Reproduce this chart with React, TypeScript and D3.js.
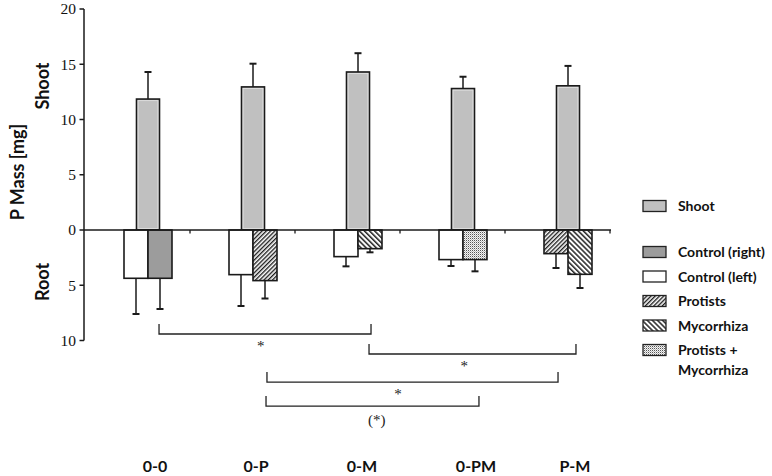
import * as d3 from "d3";
import React from "react";

// group labels along the bottom
const categories = ["0-0", "0-P", "0-M", "0-PM", "P-M"];

// shoot P mass (upwards) and its error
const shootMean = [11.85, 12.95, 14.3, 12.8, 13.05];
const shootErr = [2.45, 2.1, 1.7, 1.07, 1.8];

// root P mass (drawn downwards), left and right bar of each group
const rootLeft = [4.37, 4.04, 2.41, 2.68, 2.14];
const rootLeftErr = [3.23, 2.84, 0.88, 0.58, 1.3];
const rootRight = [4.37, 4.58, 1.69, 2.68, 4.01];
const rootRightErr = [2.78, 1.62, 0.33, 1.06, 1.24];

// which treatment fill goes on each root bar
const leftKind = ["ctrlLeft", "ctrlLeft", "ctrlLeft", "ctrlLeft", "protists"];
const rightKind = ["ctrlRight", "protists", "myco", "pm", "myco"];

// y tick values (root side shown as positive numbers)
const yTicks = [20, 15, 10, 5, 0, -5, -10];

// significance brackets: ends in group units, level in mg below zero
const brackets = [
  { from: 0.105, to: 2.124, level: 9.41, label: "*", at: 0.48 },
  { from: 2.105, to: 4.076, level: 11.22, label: "*", at: 0.46 },
  { from: 1.133, to: 3.905, level: 13.76, label: "*", at: 0.45 },
  { from: 1.124, to: 3.152, level: 15.93, label: "(*)", at: 0.52 },
];

const legendItems = [
  { key: "shoot", label: ["Shoot"] },
  { key: "ctrlRight", label: ["Control (right)"] },
  { key: "ctrlLeft", label: ["Control (left)"] },
  { key: "protists", label: ["Protists"] },
  { key: "myco", label: ["Mycorrhiza"] },
  { key: "pm", label: ["Protists +", "Mycorrhiza"] },
];

const width = 772;
const height = 476;
const ink = "#1a1a1a";
const sans = "Lato, 'Open Sans', sans-serif";
const serif = "'Liberation Serif', 'DejaVu Serif', serif";

const fills: Record<string, string> = {
  shoot: "#c0c0c0",
  ctrlRight: "#9c9c9c",
  ctrlLeft: "#ffffff",
  protists: "url(#pat-protists)",
  myco: "url(#pat-myco)",
  pm: "url(#pat-pm)",
};

export default function App() {
  const axisX = 84;
  const y = d3.scaleLinear().domain([-10, 20]).range([340.5, 9]);
  const x = d3.scaleBand<string>().domain(categories).range([95.5, 620.5]);
  const groupPos = d3
    .scaleLinear()
    .domain([0, categories.length - 1])
    .range([x(categories[0])! + x.bandwidth() / 2, x(categories[4])! + x.bandwidth() / 2]);
  const shootW = 23;
  const rootW = 24;
  const capW = 7;
  const zero = y(0);

  const errBar = (cx: number, from: number, to: number, k: string) => (
    <g key={k} stroke={ink} strokeWidth={1.5}>
      <line x1={cx} x2={cx} y1={from} y2={to} />
      <line x1={cx - capW / 2} x2={cx + capW / 2} y1={to} y2={to} strokeWidth={2} />
    </g>
  );

  return (
    <svg
      width={width}
      height={height}
      style={{ position: "absolute", left: 0, top: 0, background: "#fff" }}
    >
      <defs>
        <pattern id="pat-protists" patternUnits="userSpaceOnUse" width={3} height={3} patternTransform="rotate(45)">
          <rect width={3} height={3} fill="#fff" />
          <line x1={0.7} x2={0.7} y1={0} y2={3} stroke="#111" strokeWidth={1.3} />
        </pattern>
        <pattern id="pat-myco" patternUnits="userSpaceOnUse" width={3.6} height={3.6} patternTransform="rotate(-45)">
          <rect width={3.6} height={3.6} fill="#fff" />
          <line x1={0.8} x2={0.8} y1={0} y2={3.6} stroke="#111" strokeWidth={1.4} />
        </pattern>
        <pattern id="pat-pm" patternUnits="userSpaceOnUse" width={2} height={2}>
          <rect width={2} height={2} fill="#f4f4f4" />
          <rect width={1} height={1} fill="#555" />
          <rect x={1} y={1} width={1} height={1} fill="#bbb" />
        </pattern>
      </defs>

      {/* shoot bars */}
      {categories.map((c, i) => {
        const cx = x(c)! + x.bandwidth() / 2;
        const top = y(shootMean[i]);
        return (
          <g key={"s" + c}>
            {errBar(cx, top, y(shootMean[i] + shootErr[i]), "se" + c)}
            <rect x={cx - shootW / 2} y={top} width={shootW} height={zero - top} fill={fills.shoot} stroke={ink} strokeWidth={1.6} />
            <rect x={cx - shootW / 2 + 1.6} y={top + 1.6} width={shootW - 3.2} height={zero - top - 3.2} fill="none" stroke="#e2e2e2" strokeWidth={0.8} />
          </g>
        );
      })}

      {/* root bars, left and right */}
      {categories.map((c, i) => {
        const cx = x(c)! + x.bandwidth() / 2;
        const lx = cx - rootW / 2;
        const rx = cx + rootW / 2;
        return (
          <g key={"r" + c}>
            {errBar(lx, y(-rootLeft[i]), y(-(rootLeft[i] + rootLeftErr[i])), "le" + c)}
            {errBar(rx, y(-rootRight[i]), y(-(rootRight[i] + rootRightErr[i])), "re" + c)}
            <rect x={cx - rootW} y={zero} width={rootW} height={y(-rootLeft[i]) - zero} fill={fills[leftKind[i]]} stroke={ink} strokeWidth={1.6} />
            <rect x={cx} y={zero} width={rootW} height={y(-rootRight[i]) - zero} fill={fills[rightKind[i]]} stroke={ink} strokeWidth={1.6} />
          </g>
        );
      })}

      {/* zero line with small group ticks */}
      <line x1={axisX} x2={x(categories[4])! + x.bandwidth() * 0.9 + 1} y1={zero} y2={zero} stroke={ink} strokeWidth={1.5} />
      {categories.map((c) => {
        const tx = x(c)! + x.bandwidth() * 0.9;
        return <line key={"zt" + c} x1={tx} x2={tx} y1={zero} y2={zero + 3.5} stroke={ink} strokeWidth={1.3} />;
      })}

      {/* y axis */}
      <line x1={axisX} x2={axisX} y1={y(20)} y2={y(-10)} stroke={ink} strokeWidth={1.5} />
      {yTicks.map((t) => (
        <g key={"yt" + t}>
          <line x1={axisX - 4.5} x2={axisX} y1={y(t)} y2={y(t)} stroke={ink} strokeWidth={1.5} />
          <text x={axisX - 8} y={y(t)} dy="0.35em" textAnchor="end" fontFamily={serif} fontSize={15.5} fill="#111">
            {Math.abs(t)}
          </text>
        </g>
      ))}

      {/* axis titles */}
      <g fontFamily={sans} fontWeight={700} fontSize={18} fill="#111" textAnchor="middle">
        <text transform="translate(18,172) rotate(-90)" dy="0.35em">P Mass [mg]</text>
        <text transform="translate(43,86) rotate(-90)" dy="0.35em">Shoot</text>
        <text transform="translate(43,282) rotate(-90)" dy="0.35em">Root</text>
      </g>

      {/* significance brackets */}
      {brackets.map((b, i) => {
        const x1 = groupPos(b.from);
        const x2 = groupPos(b.to);
        const by = y(-b.level);
        const big = b.label !== "*";
        return (
          <g key={"b" + i}>
            <path d={`M${x1},${by - 10}V${by}H${x2}V${by - 10}`} fill="none" stroke="#222" strokeWidth={1.3} />
            <text
              x={x1 + (x2 - x1) * b.at}
              y={by + (big ? 19 : 17)}
              textAnchor="middle"
              fontFamily={serif}
              fontSize={big ? 15 : 15}
              fill="#222"
            >
              {b.label}
            </text>
          </g>
        );
      })}

      {/* group labels */}
      {categories.map((c, i) => (
        <text key={"cl" + c} x={groupPos(i) + [7, 3, 4, 13, 7][i]} y={472} textAnchor="middle" fontFamily={sans} fontWeight={700} fontSize={16} fill="#111">
          {c}
        </text>
      ))}

      {/* legend */}
      {legendItems.map((d, i) => {
        const cy = i === 0 ? 206 : 252 + (i - 1) * 24.5;
        return (
          <g key={"lg" + d.key}>
            <rect x={643} y={cy - 5.5} width={23} height={11} fill={fills[d.key]} stroke="#222" strokeWidth={1.3} />
            {d.label.map((t, j) => (
              <text key={t} x={678} y={cy + j * 20} dy="0.36em" fontFamily={sans} fontWeight={700} fontSize={14} fill="#111">
                {t}
              </text>
            ))}
          </g>
        );
      })}
    </svg>
  );
}
